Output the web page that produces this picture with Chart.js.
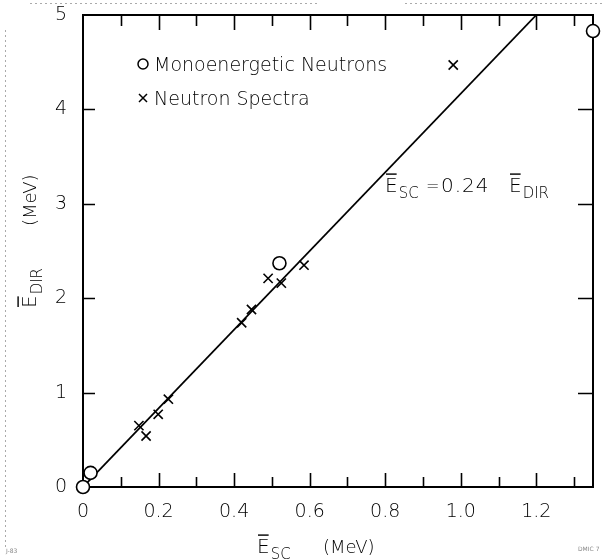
<!DOCTYPE html>
<html><head><meta charset="utf-8">
<script src="https://cdn.jsdelivr.net/npm/chart.js@4.4.1/dist/chart.umd.min.js"></script>
<style>html,body{margin:0;padding:0;background:#fff}#wrap{width:605px;height:560px;position:relative}</style>
</head><body><div id="wrap"><canvas id="c" width="605" height="560"></canvas></div>
<script>
// ---- data ----
const monoX = [0, 0.02, 0.52, 1.35];
const monoY = [0, 0.15, 2.37, 4.83];
const specX = [0.148, 0.167, 0.199, 0.226, 0.420, 0.446, 0.49, 0.525, 0.585, 0.98];
const specY = [0.65, 0.54, 0.77, 0.93, 1.74, 1.88, 2.21, 2.16, 2.35, 4.47];
const fitX = [0, 1.2];
const fitY = [0, 5];
const xTickLabels = ['0', '0.2', '0.4', '0.6', '0.8', '1.0', '1.2'];
const yTickLabels = ['0', '1', '2', '3', '4', '5'];
const legendLabels = ['Monoenergetic Neutrons', 'Neutron Spectra'];

const FF = "'DejaVu Sans', 'Liberation Sans', sans-serif";
const FW = '200';
const ink = '#000';

function pts(xs, ys) { return xs.map((x, i) => ({ x: x, y: ys[i] })); }

function barSym(ctx, x, y, size, sub, subSize, subDy) {
  ctx.font = FW + ' ' + size + 'px ' + FF;
  ctx.fillText('E', x, y);
  const w = ctx.measureText('E').width;
  ctx.fillRect(x + 1, y - size * 0.93, w - 2, 1.4);
  ctx.font = FW + ' ' + subSize + 'px ' + FF;
  ctx.fillText(sub, x + w + 1, y + subDy);
  return x + w + 1 + ctx.measureText(sub).width;
}

const framePlugin = {
  id: 'frame',
  beforeDatasetsDraw(chart) {
    const ctx = chart.ctx, a = chart.chartArea;
    const xs = chart.scales.x, ys = chart.scales.y;
    ctx.save();
    ctx.strokeStyle = ink;
    ctx.lineWidth = 2;
    ctx.strokeRect(a.left, a.top, a.right - a.left, a.bottom - a.top);
    ctx.lineWidth = 1.6;
    ctx.beginPath();
    xs.ticks.forEach(t => {
      const k = Math.round(t.value * 10);
      if (k === 0) return;
      const px = Math.round(xs.getPixelForValue(t.value)) + 0.5;
      const lb = (k % 2 === 0) ? 14 : 10;
      const lt = (k % 2 === 0) ? 15 : 11;
      ctx.moveTo(px, a.bottom); ctx.lineTo(px, a.bottom - lb);
      ctx.moveTo(px, a.top); ctx.lineTo(px, a.top + lt);
    });
    ys.ticks.forEach(t => {
      if (t.value <= 0 || t.value >= 5) return;
      const py = Math.round(ys.getPixelForValue(t.value)) + 0.5;
      ctx.moveTo(a.left, py); ctx.lineTo(a.left + 12, py);
      ctx.moveTo(a.right, py); ctx.lineTo(a.right - 15, py);
    });
    ctx.stroke();
    ctx.restore();
  },
  afterDraw(chart) {
    const ctx = chart.ctx;
    ctx.save();
    ctx.fillStyle = ink;
    ctx.strokeStyle = ink;
    ctx.textBaseline = 'alphabetic';
    // legend
    ctx.lineWidth = 1.5;
    ctx.beginPath(); ctx.arc(143, 64, 5, 0, Math.PI * 2); ctx.stroke();
    ctx.beginPath();
    ctx.moveTo(139, 94); ctx.lineTo(147, 102);
    ctx.moveTo(147, 94); ctx.lineTo(139, 102);
    ctx.stroke();
    ctx.font = FW + ' 19px ' + FF;
    ctx.fillText(chart.data.datasets[0].label, 154, 71);
    ctx.fillText(chart.data.datasets[1].label, 154, 105);
    // annotation
    barSym(ctx, 385, 192, 20, 'SC', 15, 6);
    ctx.font = FW + ' 16px ' + FF;
    ctx.fillText('=', 426, 191);
    ctx.font = FW + ' 20px ' + FF;
    ctx.letterSpacing = '1px';
    ctx.fillText('0.24', 441, 192);
    ctx.letterSpacing = '0px';
    barSym(ctx, 509, 192, 20, 'DIR', 15, 6);
    // x title
    barSym(ctx, 257, 553, 20, 'SC', 15, 6);
    ctx.font = FW + ' 18px ' + FF;
    ctx.fillText('(MeV)', 323, 553);
    // y title
    ctx.translate(36, 308);
    ctx.rotate(-Math.PI / 2);
    barSym(ctx, 0, 0, 20, 'DIR', 15, 6);
    ctx.font = FW + ' 18px ' + FF;
    ctx.fillText('(MeV)', 82, 0);
    ctx.setTransform(1, 0, 0, 1, 0, 0);
    // scan marks
    ctx.fillStyle = '#888';
    ctx.font = '6px ' + FF;
    ctx.fillText('J-83', 6, 553);
    ctx.fillText('DMIC 7', 578, 551);
    ctx.strokeStyle = '#aaa';
    ctx.lineWidth = 1;
    ctx.setLineDash([2, 3]);
    ctx.beginPath();
    ctx.moveTo(5.5, 30); ctx.lineTo(5.5, 550);
    ctx.moveTo(30, 3.5); ctx.lineTo(320, 3.5);
    ctx.moveTo(405, 3.5); ctx.lineTo(605, 3.5);
    ctx.stroke();
    ctx.restore();
  }
};

new Chart(document.getElementById('c'), {
  type: 'scatter',
  data: {
    datasets: [
      { label: legendLabels[0], data: pts(monoX, monoY), pointStyle: 'circle', pointRadius: 6.5,
        pointBorderWidth: 1.6, borderWidth: 1.6, borderColor: ink, pointBorderColor: ink,
        backgroundColor: '#fff', pointBackgroundColor: '#fff', clip: false, order: 1 },
      { label: legendLabels[1], data: pts(specX, specY), pointStyle: 'crossRot', pointRadius: 6.5,
        pointBorderWidth: 1.6, borderWidth: 1.6, borderColor: ink, pointBorderColor: ink, order: 2 },
      { label: 'fit', data: pts(fitX, fitY), showLine: true, pointRadius: 0, borderColor: ink,
        borderWidth: 1.8, fill: false, tension: 0, order: 3 }
    ]
  },
  options: {
    responsive: false, animation: false, devicePixelRatio: 1,
    layout: { padding: { top: 15, right: 12, left: 0, bottom: 0 } },
    plugins: { legend: { display: false }, tooltip: { enabled: false } },
    scales: {
      x: {
        type: 'linear', min: 0, max: 1.35,
        border: { display: false }, grid: { display: false, drawTicks: false },
        ticks: {
          stepSize: 0.1, includeBounds: false, autoSkip: false, maxRotation: 0, minRotation: 0,
          padding: 14, color: ink, font: { family: FF, size: 19, weight: FW },
          callback: v => { const k = Math.round(v * 10); return k % 2 === 0 ? xTickLabels[k / 2] : ''; }
        },
        afterFit: s => { s.height = 73; s.paddingLeft = 0; s.paddingRight = 0; }
      },
      y: {
        type: 'linear', min: 0, max: 5,
        border: { display: false }, grid: { display: false, drawTicks: false },
        ticks: {
          stepSize: 1, padding: 16, color: ink, font: { family: FF, size: 19, weight: FW },
          callback: v => yTickLabels[Math.round(v)]
        },
        afterFit: s => { s.width = 83; s.paddingTop = 0; s.paddingBottom = 0; }
      }
    }
  },
  plugins: [framePlugin]
});
</script>
</body></html>
